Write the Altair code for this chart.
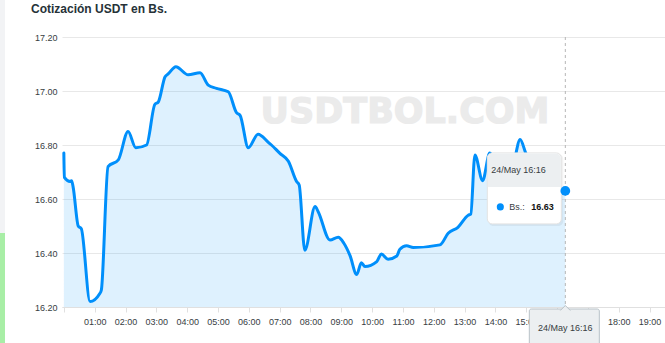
import altair as alt
import pandas as pd

# ---- data ----
times = ["00:00", "00:01", "00:12", "00:15", "00:18", "00:28", "00:34", "00:51",
         "01:10", "01:13", "01:26", "01:46", "02:05", "02:20", "02:41", "02:57",
         "03:04", "03:17", "03:23", "03:38", "04:02", "04:25", "04:41", "04:57",
         "05:20", "05:36", "05:43", "05:59", "06:18", "06:38", "06:44", "07:00",
         "07:17", "07:33", "07:38", "07:49", "08:09", "08:15", "08:38", "08:54",
         "09:05", "09:17", "09:30", "09:39", "09:46", "10:09", "10:18", "10:31",
         "10:48", "10:54", "11:07", "11:20", "12:12", "12:28", "12:47", "13:07",
         "13:12", "13:20", "13:35", "13:49", "14:03", "14:20", "14:36", "14:48",
         "14:59", "15:17", "15:40", "16:16"]
values = [16.77, 16.68, 16.665, 16.668, 16.645, 16.50, 16.49, 16.22,
          16.25, 16.263, 16.72, 16.745, 16.85, 16.79, 16.80, 16.95,
          16.96, 17.053, 17.063, 17.09, 17.06, 17.068, 17.022, 17.01,
          16.997, 16.92, 16.91, 16.79, 16.84, 16.81, 16.80, 16.77,
          16.74, 16.665, 16.652, 16.41, 16.572, 16.553, 16.448, 16.458,
          16.436, 16.39, 16.32, 16.364, 16.35, 16.368, 16.396, 16.377,
          16.389, 16.414, 16.427, 16.42, 16.43, 16.473, 16.495, 16.54,
          16.544, 16.763, 16.668, 16.77, 16.73, 16.70, 16.74, 16.82,
          16.77, 16.70, 16.645, 16.63]
y_ticks = [16.2, 16.4, 16.6, 16.8, 17.0, 17.2]
x_ticks = list(range(0, 20))
x_hidden_labels = [0, 16, 17]   # 00:00 not shown; 16:00/17:00 sit under the crosshair label box
title_text = "Cotización USDT en Bs."
watermark_text = "USDTBOL.COM"
date_label = "24/May"
series_name = "Bs.:"

BLUE = "#008FFB"
FONT = "Liberation Sans"
Y_MIN, Y_MAX = 16.2, 17.2

hours = [int(t[:2]) + int(t[3:]) / 60 for t in times]
df = pd.DataFrame({"h": hours, "v": values})

last = pd.DataFrame({
    "h": [hours[-1]], "v": [values[-1]],
    "label": [f"{date_label} {times[-1]}"],
    "val": [f"{values[-1]:.2f}"],
    "name": [series_name],
})

xs = alt.Scale(domain=[-0.06, 19.5], nice=False, zero=False)
ys = alt.Scale(domain=[Y_MIN, Y_MAX], nice=False, zero=False)

hidden_expr = " || ".join(f"datum.value == {v}" for v in x_hidden_labels)
x_axis = alt.Axis(values=x_ticks, title=None, grid=False,
                  labelExpr=f"({hidden_expr}) ? '' : (datum.value < 10 ? '0' : '') + datum.value + ':00'",
                  labelFont=FONT, labelFontSize=9, labelColor="#373d3f",
                  tickColor="#e0e0e0", tickSize=5, domainColor="#e0e0e0",
                  labelPadding=5, labelFlush=False)
y_axis = alt.Axis(values=y_ticks, format=".2f", title=None, grid=True,
                  gridColor="#e8e8e8", domain=False, ticks=False,
                  labelFont=FONT, labelFontSize=9, labelColor="#373d3f",
                  labelPadding=5)

X = alt.X("h:Q", scale=xs, axis=x_axis)
Y = alt.Y("v:Q", scale=ys, axis=y_axis)

base = alt.Chart(df)

area = base.mark_area(interpolate="monotone", color=BLUE, opacity=0.13).encode(
    x=X, y=Y, y2=alt.datum(Y_MIN),
)

wm = alt.Chart(pd.DataFrame({"h": [11.066], "v": [16.881], "t": [watermark_text]})).mark_text(
    font="DejaVu Sans", fontWeight="bold", fontSize=35, color="#ebebeb",
    stroke="#ebebeb", strokeWidth=1.2,
    align="center", baseline="alphabetic"
).encode(x=X, y=Y, text="t:N")

line = base.mark_line(interpolate="monotone", color=BLUE, strokeWidth=3,
                      strokeCap="round", strokeJoin="round").encode(x=X, y=Y)

lb = alt.Chart(last)

cross = lb.mark_rule(color="#b6b6b6", strokeDash=[3, 3], strokeWidth=1).encode(x=X)

shadow = lb.mark_rect(fill="#000000", opacity=0.05, cornerRadius=5,
                      xOffset=-77, x2Offset=-2, yOffset=-37, y2Offset=35).encode(
    x=X, x2="h:Q", y=Y, y2="v:Q")
box = lb.mark_rect(fill="#ffffff", stroke="#e3e3e3", strokeWidth=1, cornerRadius=5,
                   xOffset=-78, x2Offset=-4, yOffset=-38, y2Offset=33).encode(
    x=X, x2="h:Q", y=Y, y2="v:Q")
header = lb.mark_rect(fill="#eceff1", cornerRadiusTopLeft=5, cornerRadiusTopRight=5,
                      xOffset=-77.5, x2Offset=-4.5, yOffset=-37.5, y2Offset=-4).encode(
    x=X, x2="h:Q", y=Y, y2="v:Q")
head_txt = lb.mark_text(align="left", baseline="middle", dx=-74, dy=-21,
                        font=FONT, fontSize=9, color="#373d3f").encode(x=X, y=Y, text="label:N")
tip_dot = lb.mark_circle(color=BLUE, opacity=1, size=50, xOffset=-65, yOffset=16).encode(x=X, y=Y)
name_txt = lb.mark_text(align="left", baseline="middle", dx=-56, dy=16,
                        font=FONT, fontSize=9, color="#373d3f").encode(x=X, y=Y, text="name:N")
val_txt = lb.mark_text(align="left", baseline="middle", dx=-34, dy=16,
                       font=FONT, fontSize=9, fontWeight="bold", color="#111111").encode(x=X, y=Y, text="val:N")

big_dot = lb.mark_circle(color=BLUE, opacity=1, size=95).encode(x=X, y=Y)

xbox = lb.mark_rect(fill="#eceff1", stroke="#b8c2c8", strokeWidth=1, cornerRadius=2,
                    xOffset=-36, x2Offset=34, yOffset=2, y2Offset=45).encode(
    x=X, x2="h:Q", y=alt.datum(Y_MIN), y2=alt.datum(Y_MIN))
xarrow = lb.mark_point(shape="M-1,0.5L0,-0.5L1,0.5", size=100, filled=True,
                       fill="#eceff1", stroke="#b8c2c8", strokeWidth=1, opacity=1,
                       yOffset=1).encode(x=X, y=alt.datum(Y_MIN))
xbox_txt = lb.mark_text(align="center", baseline="middle", dy=21,
                        font=FONT, fontSize=9, color="#373d3f").encode(
    x=X, y=alt.datum(Y_MIN), text="label:N")

one = pd.DataFrame({"k": [0]})
strip_grey = alt.Chart(one).mark_rect(color="#f2f3f5").encode(
    x=alt.value(-62), x2=alt.value(-57), y=alt.value(-37), y2=alt.value(196))
strip_green = alt.Chart(one).mark_rect(color="#a8eea6").encode(
    x=alt.value(-62), x2=alt.value(-57), y=alt.value(196), y2=alt.value(306))

title = alt.Chart(pd.DataFrame({"t": [title_text]})).mark_text(
    font=FONT, fontSize=12, fontWeight="bold", color="#263238",
    align="left", baseline="alphabetic"
).encode(x=alt.value(-31), y=alt.value(-24.5), text="t:N")

chart = alt.layer(
    area, wm, line, cross, shadow, box, header, head_txt, tip_dot, name_txt, val_txt,
    big_dot, xbox, xarrow, xbox_txt, strip_grey, strip_green, title
).properties(
    width=603, height=270,
    autosize=alt.AutoSizeParams(type="none"),
    padding={"left": 62, "top": 37, "right": 0, "bottom": 36},
    background="#ffffff",
).configure_view(stroke=None)

chart.save("out.html", embed_options={"renderer": "svg", "actions": False})
